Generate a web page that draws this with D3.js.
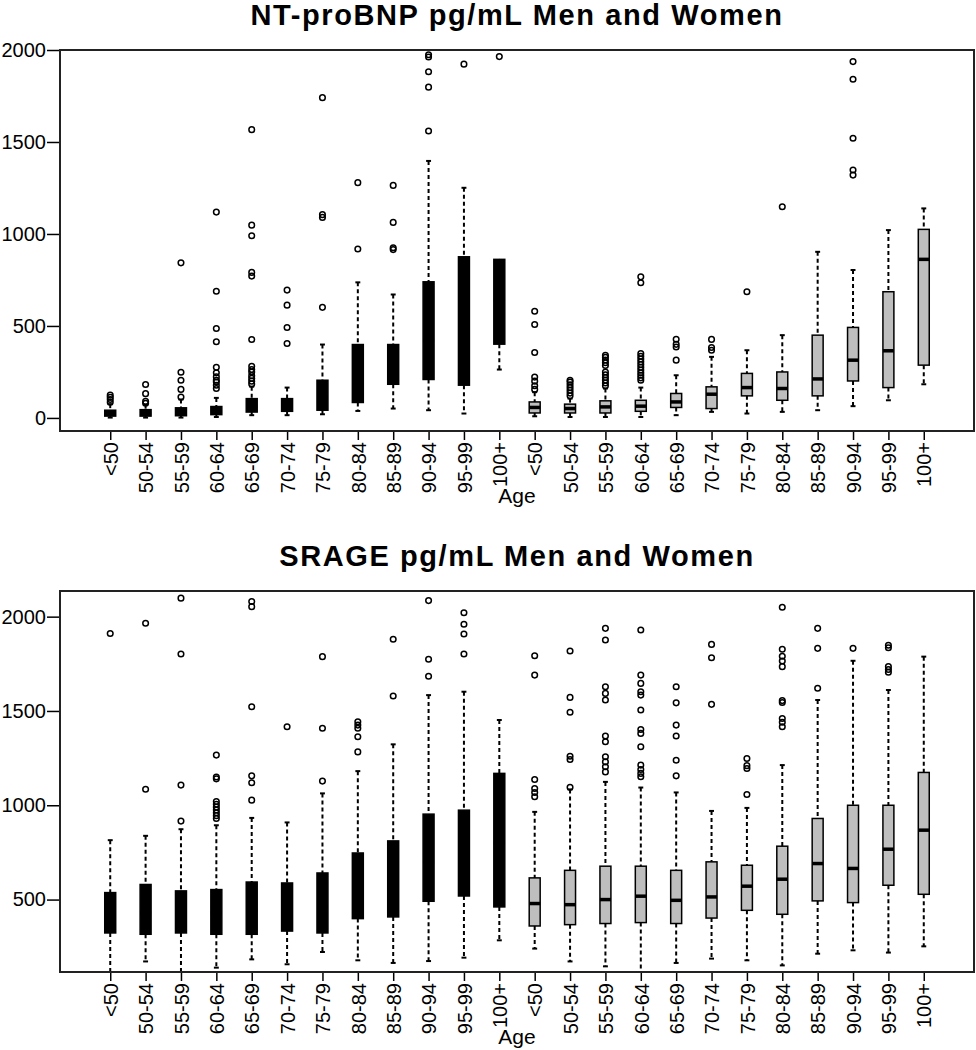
<!DOCTYPE html>
<html>
<head>
<meta charset="utf-8">
<script src="https://cdn.jsdelivr.net/npm/d3@7"></script>
<style>
    body { margin: 0; background: #fff; }
    text { font-family: "Liberation Sans", Arial, sans-serif; }
</style>
</head>
<body>
<div id="chart"></div>
<script>

// age groups, men first then women
let ageGroups = ["<50", "50-54", "55-59", "60-64", "65-69", "70-74", "75-79", "80-84", "85-89", "90-94", "95-99", "100+"];
let categories = ageGroups.concat(ageGroups);

// NT-proBNP, men
let bnpMenLow = [2, 2, 2, 5, 15, 15, 20, 38, 51, 42, 24, 263];
let bnpMenQ1 = [10, 10, 12, 18, 32, 36, 42, 84, 183, 209, 178, 401];
let bnpMenMed = [25, 25, 30, 35, 60, 70, 110, 220, 280, 420, 500, 640];
let bnpMenQ3 = [42, 45, 55, 62, 105, 105, 205, 399, 399, 740, 876, 862];
let bnpMenHigh = [75, 72, 100, 109, 170, 165, 399, 737, 671, 1397, 1251, 862];
let bnpMenOut = [
    [85, 100, 112, 124],
    [80, 90, 132, 182],
    [114, 155, 205, 248, 843],
    [160, 178, 195, 205, 223, 245, 275, 414, 486, 689, 1119],
    [185, 200, 215, 230, 250, 263, 281, 426, 771, 791, 990, 1048, 1567],
    [405, 492, 613, 695],
    [601, 1090, 1105, 1741],
    [918, 1279],
    [915, 925, 1063, 1264],
    [1560, 1798, 1882, 1962, 1974],
    [1923],
    [1964]
];

// NT-proBNP, women
let bnpWomenLow = [9, 5, 5, 5, 15, 33, 24, 33, 42, 64, 96, 183];
let bnpWomenQ1 = [27, 27, 27, 36, 57, 51, 120, 96, 120, 201, 165, 287];
let bnpWomenMed = [57, 51, 60, 64, 87, 129, 165, 160, 212, 314, 365, 862];
let bnpWomenQ3 = [87, 75, 93, 96, 133, 169, 242, 250, 450, 492, 686, 1025];
let bnpWomenHigh = [140, 105, 160, 165, 232, 332, 368, 450, 903, 804, 1021, 1139];
let bnpWomenOut = [
    [155, 175, 200, 222, 356, 508, 580],
    [120, 135, 150, 165, 180, 195, 205],
    [175, 190, 205, 220, 235, 250, 285, 300, 315, 330, 340],
    [205, 218, 232, 245, 260, 275, 290, 305, 320, 335, 350, 735, 767],
    [314, 386, 400, 428],
    [368, 383, 427],
    [686],
    [1148],
    [],
    [1320, 1348, 1520, 1841, 1937],
    [],
    []
];

// SRAGE, men
let srageMenLow = [100, 172, 100, 139, 183, 157, 222, 178, 164, 174, 192, 284];
let srageMenQ1 = [323, 316, 323, 316, 316, 333, 323, 399, 408, 491, 519, 461];
let srageMenMed = [420, 430, 420, 430, 440, 450, 460, 560, 600, 700, 740, 800];
let srageMenQ3 = [537, 580, 546, 553, 593, 588, 641, 747, 811, 953, 974, 1169];
let srageMenHigh = [815, 838, 873, 894, 933, 909, 1063, 1181, 1323, 1584, 1602, 1452];
let srageMenOut = [
    [1911],
    [1085, 1965],
    [916, 1107, 1802, 2098],
    [930, 945, 960, 975, 990, 1005, 1020, 1140, 1150, 1266],
    [1027, 1119, 1156, 1522, 2053, 2080],
    [1416],
    [1128, 1408, 1788],
    [1283, 1363, 1408, 1425, 1443],
    [1579, 1880],
    [1684, 1774, 2085],
    [1802, 1908, 1960, 2021],
    []
];

// SRAGE, women
let srageWomenLow = [240, 172, 146, 100, 164, 187, 178, 151, 213, 231, 219, 252];
let srageWomenQ1 = [360, 367, 373, 378, 373, 402, 443, 422, 493, 484, 576, 528];
let srageWomenMed = [479, 473, 500, 518, 496, 514, 571, 608, 691, 665, 767, 868];
let srageWomenQ3 = [615, 655, 677, 677, 655, 700, 682, 783, 930, 1000, 1000, 1174];
let srageWomenHigh = [965, 1084, 1124, 1094, 1068, 970, 986, 1213, 1558, 1766, 1611, 1788];
let srageWomenOut = [
    [1045, 1068, 1089, 1137, 1690, 1793],
    [1095, 1243, 1260, 1493, 1572, 1818],
    [1177, 1204, 1230, 1257, 1337, 1367, 1558, 1593, 1628, 1876, 1938],
    [1151, 1169, 1190, 1213, 1310, 1381, 1402, 1505, 1584, 1602, 1646, 1690, 1929],
    [1156, 1239, 1367, 1425, 1543, 1628],
    [1535, 1782, 1853],
    [1057, 1195, 1210, 1248],
    [1416, 1440, 1460, 1545, 1555, 1735, 1765, 1790, 1827, 2050],
    [1620, 1832, 1938],
    [1832],
    [1705, 1720, 1735, 1835, 1848],
    []
];

// y ticks and visible ranges
let bnpTicks = [0, 500, 1000, 1500, 2000];
let bnpRange = [-71, 2000];
let srageTicks = [500, 1000, 1500, 2000];
let srageRange = [116, 2136];

let margin = { left: 60, right: 2 },
    width = 976 - margin.left - margin.right,
    height = 381;

let svg = d3.select("#chart")
    .append("svg")
    .attr("width", 976)
    .attr("height", 1050);

// build the 24 boxes of one panel: men then women
function makeBoxes(lo, q1, med, q3, hi, out) {
    return d3.range(24).map(function (i) {
        let s = i < 12 ? 0 : 1, k = i % 12;
        return {
            pos: i + 1, women: s === 1,
            low: lo[s][k], q1: q1[s][k], med: med[s][k], q3: q3[s][k], high: hi[s][k],
            out: out[s][k]
        };
    });
}

function drawPanel(p) {
    let g = svg.append("g")
        .attr("transform", "translate(" + margin.left + "," + p.top + ")");

    let x = d3.scaleLinear().domain([-0.42, 25.42]).range([0, width]);
    let y = d3.scaleLinear().domain(p.range).range([height, 0]);

    let bw = x(0.31) - x(0);
    let cw = bw * 0.45;

    g.append("clipPath").attr("id", "clip" + p.id)
        .append("rect").attr("width", width).attr("height", height);

    let plot = g.append("g").attr("clip-path", "url(#clip" + p.id + ")");

    let box = plot.selectAll(".box")
        .data(p.boxes)
        .enter()
        .append("g")
        .attr("class", "box");

    // whiskers
    box.append("line")
        .attr("x1", d => x(d.pos)).attr("x2", d => x(d.pos))
        .attr("y1", d => y(d.high)).attr("y2", d => y(d.q3))
        .attr("stroke", "#000").attr("stroke-width", 2).attr("stroke-dasharray", "4,3");
    box.append("line")
        .attr("x1", d => x(d.pos)).attr("x2", d => x(d.pos))
        .attr("y1", d => y(d.q1)).attr("y2", d => y(d.low))
        .attr("stroke", "#000").attr("stroke-width", 2).attr("stroke-dasharray", "4,3");

    // staples
    box.filter(d => d.high > d.q3).append("line")
        .attr("x1", d => x(d.pos) - cw / 2).attr("x2", d => x(d.pos) + cw / 2)
        .attr("y1", d => y(d.high)).attr("y2", d => y(d.high))
        .attr("stroke", "#000").attr("stroke-width", 2);
    box.append("line")
        .attr("x1", d => x(d.pos) - cw / 2).attr("x2", d => x(d.pos) + cw / 2)
        .attr("y1", d => y(d.low)).attr("y2", d => y(d.low))
        .attr("stroke", "#000").attr("stroke-width", 2);

    // boxes
    box.append("rect")
        .attr("x", d => x(d.pos) - bw / 2)
        .attr("y", d => y(d.q3))
        .attr("width", bw)
        .attr("height", d => y(d.q1) - y(d.q3))
        .attr("fill", d => d.women ? "#bebebe" : "#000")
        .attr("stroke", "#000")
        .attr("stroke-width", 1.5);

    box.append("line")
        .attr("x1", d => x(d.pos) - bw / 2).attr("x2", d => x(d.pos) + bw / 2)
        .attr("y1", d => y(d.med)).attr("y2", d => y(d.med))
        .attr("stroke", "#000").attr("stroke-width", 3.5);

    // outliers
    box.selectAll("circle")
        .data(d => d.out.map(v => ({ pos: d.pos, v: v })))
        .enter()
        .append("circle")
        .attr("cx", d => x(d.pos))
        .attr("cy", d => y(d.v))
        .attr("r", 2.8)
        .attr("fill", "none")
        .attr("stroke", "#000")
        .attr("stroke-width", 1.5);

    // axes
    let yAxis = g.append("g")
        .call(d3.axisLeft(y).tickValues(p.ticks).tickSize(13).tickPadding(1).tickFormat(d3.format("d")));
    let xAxis = g.append("g")
        .attr("transform", "translate(0," + height + ")")
        .call(d3.axisBottom(x).tickValues(d3.range(1, 25)).tickSize(9).tickFormat(i => categories[i - 1]));

    [yAxis, xAxis].forEach(function (a) {
        a.select(".domain").remove();
        a.selectAll("line").attr("stroke", "#000").attr("stroke-width", 1.5);
        a.selectAll("text").attr("fill", "#000").style("font-size", "20px");
    });

    xAxis.selectAll("text")
        .attr("transform", "rotate(-90)")
        .attr("x", -11)
        .attr("y", 0)
        .attr("dy", "0.36em")
        .style("text-anchor", "end");

    // frame
    g.append("rect")
        .attr("width", width).attr("height", height)
        .attr("fill", "none")
        .attr("stroke", "#222")
        .attr("stroke-width", 2);

    g.append("text")
        .attr("x", width / 2).attr("y", height + 72)
        .attr("text-anchor", "middle")
        .style("font-size", "21px")
        .text("Age");

    svg.append("text")
        .attr("x", margin.left + width / 2).attr("y", p.titleY)
        .attr("text-anchor", "middle")
        .style("font-size", "29px")
        .style("font-weight", "bold")
        .style("letter-spacing", "1.6px")
        .text(p.title);
}

drawPanel({
    id: 1, top: 50, titleY: 25,
    title: "NT-proBNP pg/mL Men and Women",
    range: bnpRange, ticks: bnpTicks,
    boxes: makeBoxes([bnpMenLow, bnpWomenLow], [bnpMenQ1, bnpWomenQ1], [bnpMenMed, bnpWomenMed],
        [bnpMenQ3, bnpWomenQ3], [bnpMenHigh, bnpWomenHigh], [bnpMenOut, bnpWomenOut])
});

drawPanel({
    id: 2, top: 591, titleY: 566,
    title: "SRAGE pg/mL Men and Women",
    range: srageRange, ticks: srageTicks,
    boxes: makeBoxes([srageMenLow, srageWomenLow], [srageMenQ1, srageWomenQ1], [srageMenMed, srageWomenMed],
        [srageMenQ3, srageWomenQ3], [srageMenHigh, srageWomenHigh], [srageMenOut, srageWomenOut])
});

</script>
</body>
</html>
